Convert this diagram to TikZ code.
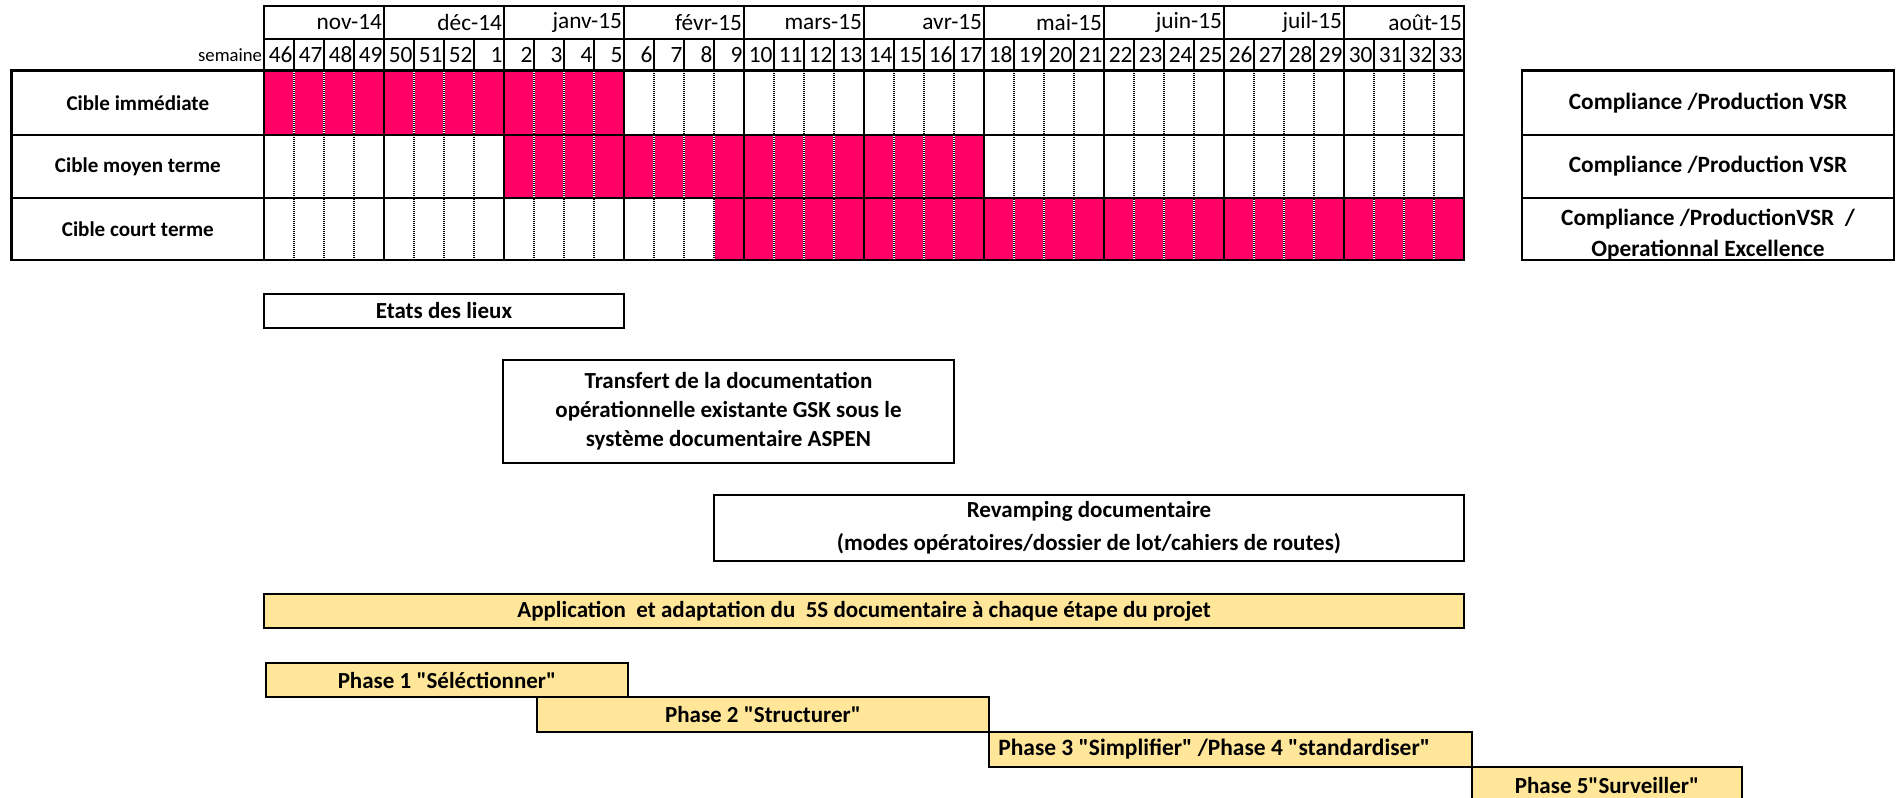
\documentclass[tikz,border=0pt]{standalone}
\usepackage{fontspec}
\setmainfont{Carlito}
\usetikzlibrary{fit}
\definecolor{pinkfill}{HTML}{FF0066}
\definecolor{goldfill}{HTML}{FFE699}
\begin{document}
\begin{tikzpicture}[x=0.75pt,y=-0.75pt,
  every node/.style={inner sep=0pt, outer sep=0pt},
  frame/.style={draw=black, line width=2pt},
  thinframe/.style={draw=black, line width=1.65pt},
  hdrfont/.style={font=\fontsize{17.5}{19}\selectfont},
  lblfont/.style={font=\bfseries\fontsize{15.8}{18}\selectfont},
  rgtfont/.style={font=\bfseries\fontsize{17.5}{23.25}\selectfont, align=center},
  barfont/.style={font=\bfseries\fontsize{17.25}{21.75}\selectfont, align=center},
  goldbox/.style={frame, fill=goldfill},
  dotunder/.style={white, line width=1.5pt},
  dotline/.style={black, line width=1pt, dash pattern=on 0.75pt off 0.75pt}
]
\useasboundingbox (0,0) rectangle (1896,798);
\clip (0,0) rectangle (1896,798);

% ---- pink fills
\fill[pinkfill] (264,70.7) rectangle (624,135);
\fill[pinkfill] (504,135) rectangle (984,198);
\fill[pinkfill] (714,198) rectangle (1464,260);

% ---- dotted week separators in data rows
\foreach \j in {1,...,39}{
  \pgfmathtruncatemacro\rr{mod(\j,4)}
  \pgfmathsetmacro\xx{264+30*\j}
  \ifnum\rr=0\else
    \draw[dotunder] (\xx,70.7) -- (\xx,260);
    \draw[dotline] (\xx,70.7) -- (\xx,260);
  \fi
}

% ---- month header
\foreach \m [count=\i from 0] in {nov-14,déc-14,janv-15,févr-15,mars-15,avr-15,mai-15,juin-15,juil-15,août-15}{
  \pgfmathsetmacro\xa{264+120*\i}
  \pgfmathsetmacro\xb{384+120*\i}
  \node[thinframe, fit={(\xa,6) (\xb,39)}] (m\i) {};
  \node[anchor=east, hdrfont] (mt\i) at ([xshift=-1.5pt]m\i.east) {\m};
}

% ---- week header
\foreach \w [count=\j from 0] in {46,47,48,49,50,51,52,1,2,3,4,5,6,7,8,9,10,11,12,13,14,15,16,17,18,19,20,21,22,23,24,25,26,27,28,29,30,31,32,33}{
  \pgfmathsetmacro\xa{264+30*\j}
  \pgfmathsetmacro\xb{294+30*\j}
  \node[thinframe, fit={(\xa,39) (\xb,70.7)}] (w\j) {};
  \node[anchor=east, hdrfont] (wt\j) at ([xshift=-1.2pt]w\j.east) {\w};
}
\node[anchor=east, font=\fontsize{14}{16}\selectfont] (sem) at ([xshift=-1.5pt]w0.west) {semaine};

% ---- data cells (row x month)
\foreach \i in {0,...,9}{
  \pgfmathsetmacro\xa{264+120*\i}
  \pgfmathsetmacro\xb{384+120*\i}
  \node[frame, fit={(\xa,70.7) (\xb,135)}] (a\i) {};
  \node[frame, fit={(\xa,135) (\xb,198)}] (b\i) {};
  \node[frame, fit={(\xa,198) (\xb,260)}] (c\i) {};
}

% ---- left labels
\node[frame, fit={(11.7,70.7) (264,135)}] (l1) {};
\node[frame, fit={(11.7,135) (264,198)}] (l2) {};
\node[frame, fit={(11.7,198) (264,260)}] (l3) {};
\node[lblfont] (l1t) at (l1.center) {Cible immédiate};
\node[lblfont] (l2t) at (l2.center) {Cible moyen terme};
\node[lblfont] (l3t) at (l3.center) {Cible court terme};

% ---- right boxes
\node[frame, fit={(1522,70.7) (1894,135)}] (r1) {};
\node[frame, fit={(1522,135) (1894,198)}] (r2) {};
\node[frame, fit={(1522,198) (1894,260)}] (r3) {};
\node[rgtfont] (r1t) at (r1.center) {Compliance /Production VSR};
\node[rgtfont] (r2t) at (r2.center) {Compliance /Production VSR};
\node[rgtfont] (r3t) at ([yshift=-4.2pt]r3.center) {Compliance /ProductionVSR \ /\\Operationnal Excellence};

% ---- activity boxes
\node[frame, fit={(264,294) (624,328)}] (etats) {};
\node[barfont] (etatst) at (etats.center) {Etats des lieux};
\node[frame, fit={(503,360) (954,463)}] (transfert) {};
\node[barfont] (transfertt) at (transfert.center) {Transfert de la documentation\\opérationnelle existante GSK sous le\\système documentaire ASPEN};
\node[frame, fit={(714,495) (1464,561)}] (revamp) {};
\node[font=\bfseries\fontsize{17.25}{24.75}\selectfont, align=center] (revampt) at (revamp.center) {Revamping documentaire\\(modes opératoires/dossier de lot/cahiers de routes)};

% ---- 5S bars
\node[goldbox, fit={(264,594) (1464,628)}] (app) {};
\node[barfont] (appt) at (app.center) {Application\ \ et adaptation du\ \ 5S documentaire à chaque étape du projet};
\node[goldbox, fit={(266,663) (628,697)}] (p1) {};
\node[barfont] (p1t) at (p1.center) {Phase 1 \textquotedbl Séléctionner\textquotedbl};
\node[goldbox, fit={(537,697) (989,732)}] (p2) {};
\node[barfont] (p2t) at (p2.center) {Phase 2 \textquotedbl Structurer\textquotedbl};
\node[goldbox, fit={(989,732) (1472,767)}] (p3) {};
\node[barfont, font=\bfseries\fontsize{17.6}{21.75}\selectfont, anchor=west] (p3t) at ([xshift=7pt]p3.west) {Phase 3 \textquotedbl Simplifier\textquotedbl\ /Phase 4 \textquotedbl standardiser\textquotedbl};
\node[goldbox, fit={(1472,767) (1742,802)}] (p5) {};
\node[barfont] (p5t) at ([yshift=-1pt]p5.center) {Phase 5\textquotedbl Surveiller\textquotedbl};
\end{tikzpicture}
\end{document}
